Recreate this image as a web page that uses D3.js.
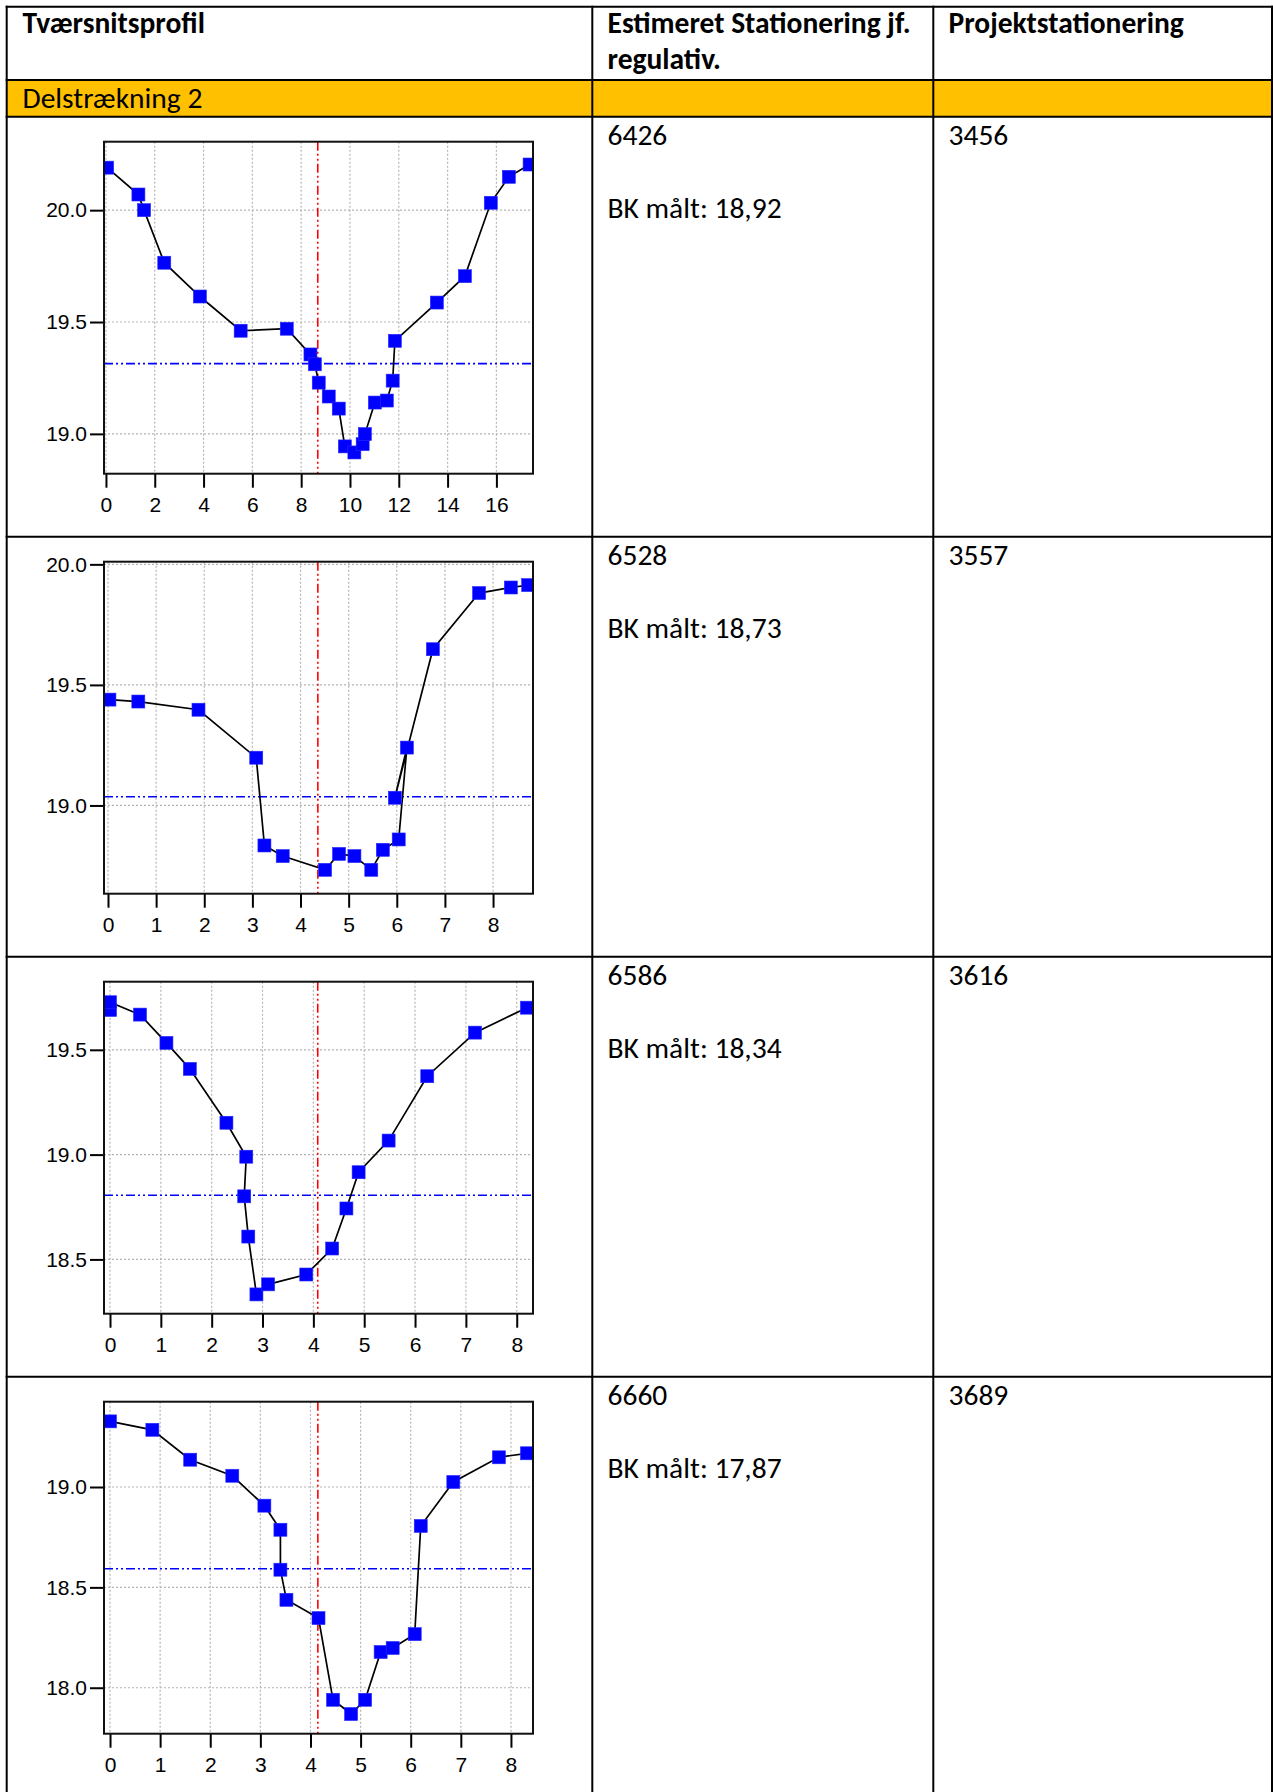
<!DOCTYPE html>
<html>
<head>
<meta charset="utf-8">
<script src="https://d3js.org/d3.v7.min.js"></script>
<style>
  body { margin: 0; background: #fff; }
  .cell { font-family: Carlito, Calibri, Lato, sans-serif; font-size: 29.5px; fill: #000; }
  .bold { font-weight: bold; }
  .tick text { font-family: "Liberation Sans", Arial, sans-serif; font-size: 21px; fill: #000; }
</style>
</head>
<body>
<svg width="1273" height="1792"></svg>
<script>
// table texts
const headers = ["Tværsnitsprofil", "Estimeret Stationering jf.", "Projektstationering"];
const headerLine2 = "regulativ.";
const sectionName = "Delstrækning 2";
const stations = ["6426", "6528", "6586", "6660"];
const projectStations = ["3456", "3557", "3616", "3689"];
const bkMeasured = ["18,92", "18,73", "18,34", "17,87"];

// profile 1 (station 6426), [distance, level]
const profile1 = [[0.05, 20.19], [1.33, 20.07], [1.56, 20.0], [2.39, 19.765], [3.85, 19.614],
  [5.52, 19.461], [7.41, 19.47], [8.38, 19.355], [8.56, 19.311], [8.72, 19.229], [9.13, 19.167],
  [9.54, 19.113], [9.79, 18.944], [10.18, 18.917], [10.52, 18.954], [10.61, 18.999], [11.02, 19.14],
  [11.51, 19.149], [11.75, 19.238], [11.84, 19.416], [13.56, 19.587], [14.71, 19.705],
  [15.77, 20.033], [16.51, 20.149], [17.36, 20.204]];
// profile 2 (station 6528)
const profile2 = [[0.03, 19.439], [0.63, 19.431], [1.88, 19.397], [3.08, 19.198], [3.25, 18.834],
  [3.63, 18.79], [4.51, 18.733], [4.8, 18.799], [5.12, 18.79], [5.47, 18.733], [5.71, 18.816],
  [6.04, 18.859], [6.21, 19.24], [5.96, 19.032], [6.75, 19.648], [7.71, 19.881], [8.37, 19.904],
  [8.73, 19.914]];
// profile 3 (station 6586)
const profile3 = [[0.0, 19.69], [0.0, 19.727], [0.59, 19.668], [1.11, 19.533], [1.57, 19.409],
  [2.29, 19.152], [2.68, 18.99], [2.64, 18.801], [2.72, 18.609], [2.88, 18.333], [3.11, 18.381],
  [3.86, 18.428], [4.37, 18.552], [4.65, 18.743], [4.89, 18.916], [5.48, 19.067], [6.24, 19.374],
  [7.18, 19.582], [8.2, 19.701]];
// profile 4 (station 6660)
const profile4 = [[0.0, 19.327], [0.845, 19.285], [1.6, 19.136], [2.44, 19.056], [3.08, 18.907],
  [3.4, 18.787], [3.4, 18.588], [3.52, 18.438], [4.16, 18.347], [4.45, 17.94], [4.81, 17.869],
  [5.09, 17.94], [5.4, 18.178], [5.64, 18.198], [6.08, 18.267], [6.2, 18.806], [6.85, 19.025],
  [7.76, 19.148], [8.32, 19.168]];

const profiles = [profile1, profile2, profile3, profile4];

// axis ranges and ticks per profile
const xDomains = [[-0.08, 17.5], [-0.083, 8.83], [-0.118, 8.32], [-0.12, 8.44]];
const yDomains = [[18.822, 20.306], [18.634, 20.011], [18.241, 19.825], [17.771, 19.425]];
const xTicks = [[0, 2, 4, 6, 8, 10, 12, 14, 16], [0, 1, 2, 3, 4, 5, 6, 7, 8],
  [0, 1, 2, 3, 4, 5, 6, 7, 8], [0, 1, 2, 3, 4, 5, 6, 7, 8]];
const yTicks = [[19.0, 19.5, 20.0], [19.0, 19.5, 20.0], [18.5, 19.0, 19.5], [18.0, 18.5, 19.0]];

// reference lines: water level (blue) and centre line (red)
const waterLevels = [19.314, 19.036, 18.806, 18.593];
const centreLines = [8.68, 4.36, 4.086, 4.147];

// layout
const tableLeft = 6.7, tableRight = 1272, tableTop = 6.7;
const colX = [592.3, 933.3];
const headerBottom = 80, sectionBottom = 116.7;
const rowHeight = 420;
const plotLeft = 104, plotW = 429, plotH = 332, plotOffset = 25;

const svg = d3.select("svg");

// orange section row
svg.append("rect")
  .attr("x", tableLeft).attr("y", headerBottom)
  .attr("width", tableRight - tableLeft).attr("height", sectionBottom - headerBottom)
  .attr("fill", "#ffc000");

// table lines
const hLines = [tableTop, headerBottom, sectionBottom];
for (let i = 1; i <= 3; i++) hLines.push(sectionBottom + i * rowHeight);
hLines.forEach(function(y) {
  svg.append("line")
    .attr("x1", tableLeft - 1).attr("x2", tableRight + 1)
    .attr("y1", y).attr("y2", y)
    .attr("stroke", "#000").attr("stroke-width", 2);
});
[tableLeft, colX[0], colX[1], tableRight].forEach(function(x) {
  svg.append("line")
    .attr("x1", x).attr("x2", x)
    .attr("y1", tableTop - 1).attr("y2", 1792)
    .attr("stroke", "#000").attr("stroke-width", 2);
});

// header texts
svg.append("text").attr("class", "cell bold").attr("x", 22.5).attr("y", 33).text(headers[0]);
svg.append("text").attr("class", "cell bold").attr("x", 607.5).attr("y", 33).text(headers[1]);
svg.append("text").attr("class", "cell bold").attr("x", 607.5).attr("y", 69).text(headerLine2);
svg.append("text").attr("class", "cell bold").attr("x", 948.5).attr("y", 33).text(headers[2]);
svg.append("text").attr("class", "cell").attr("x", 22.5).attr("y", 108).text(sectionName);

// rows with station texts and profile charts
profiles.forEach(function(data, i) {
  const rowTop = sectionBottom + i * rowHeight;

  svg.append("text").attr("class", "cell").attr("x", 607.5).attr("y", rowTop + 28.5).text(stations[i]);
  svg.append("text").attr("class", "cell").attr("x", 607.5).attr("y", rowTop + 101.5)
    .text("BK målt: " + bkMeasured[i]);
  svg.append("text").attr("class", "cell").attr("x", 948.5).attr("y", rowTop + 28.5).text(projectStations[i]);

  drawProfile(data, i, rowTop + plotOffset);
});

function drawProfile(data, i, plotTop) {
  const chart = svg.append("g")
    .attr("transform", `translate(${plotLeft}, ${plotTop})`);

  const x = d3.scaleLinear().domain(xDomains[i]).range([0, plotW]);
  const y = d3.scaleLinear().domain(yDomains[i]).range([plotH, 0]);

  const clipId = "clip" + i;
  chart.append("clipPath").attr("id", clipId)
    .append("rect").attr("width", plotW).attr("height", plotH);

  const inner = chart.append("g").attr("clip-path", `url(#${clipId})`);

  // dotted grid
  inner.selectAll(".vgrid")
    .data(xTicks[i])
    .enter().append("line")
      .attr("x1", d => x(d)).attr("x2", d => x(d))
      .attr("y1", 0).attr("y2", plotH)
      .attr("stroke", "#b4b4b4").attr("stroke-width", 1.2)
      .attr("stroke-dasharray", "2,2");
  inner.selectAll(".hgrid")
    .data(yTicks[i])
    .enter().append("line")
      .attr("x1", 0).attr("x2", plotW)
      .attr("y1", d => y(d)).attr("y2", d => y(d))
      .attr("stroke", "#b4b4b4").attr("stroke-width", 1.2)
      .attr("stroke-dasharray", "2,2");

  // water level and centre line
  inner.append("line")
    .attr("x1", 0).attr("x2", plotW)
    .attr("y1", y(waterLevels[i])).attr("y2", y(waterLevels[i]))
    .attr("stroke", "#0000ff").attr("stroke-width", 1.6)
    .attr("stroke-dasharray", "9,3,2,3,2,3");
  inner.append("line")
    .attr("x1", x(centreLines[i])).attr("x2", x(centreLines[i]))
    .attr("y1", 0).attr("y2", plotH)
    .attr("stroke", "#ff0000").attr("stroke-width", 1.6)
    .attr("stroke-dasharray", "9,3,2,3,2,3");

  // profile line
  inner.append("path")
    .datum(data)
    .attr("fill", "none")
    .attr("stroke", "#000")
    .attr("stroke-width", 1.7)
    .attr("d", d3.line().x(d => x(d[0])).y(d => y(d[1])));

  // square markers
  inner.selectAll(".pt")
    .data(data)
    .enter().append("rect")
      .attr("x", d => x(d[0]) - 6.5)
      .attr("y", d => y(d[1]) - 6.5)
      .attr("width", 13).attr("height", 13)
      .attr("fill", "#0000ff")
      .attr("stroke", "#2a2aff").attr("stroke-width", 0.6);

  // axes
  const xAxis = chart.append("g")
    .attr("transform", `translate(0, ${plotH})`)
    .call(d3.axisBottom(x).tickValues(xTicks[i]).tickSize(14).tickPadding(9).tickFormat(d3.format("d")));
  const yAxis = chart.append("g")
    .call(d3.axisLeft(y).tickValues(yTicks[i]).tickSize(14).tickPadding(3).tickFormat(d3.format(".1f")));
  [xAxis, yAxis].forEach(function(a) {
    a.select(".domain").remove();
    a.selectAll(".tick line").attr("stroke", "#000").attr("stroke-width", 2);
  });

  // frame
  chart.append("rect")
    .attr("width", plotW).attr("height", plotH)
    .attr("fill", "none")
    .attr("stroke", "#111").attr("stroke-width", 2);
}
</script>
</body>
</html>
